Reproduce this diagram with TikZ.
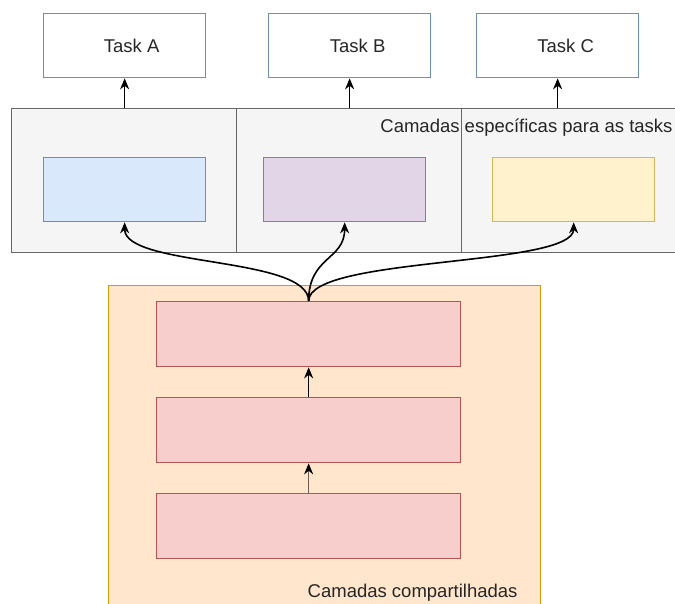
\documentclass[tikz,border=0pt]{standalone}
\usepackage{fontspec}
\setmainfont{Liberation Sans}
\usetikzlibrary{arrows.meta}

\definecolor{taskline}{HTML}{6C8EBF}
\definecolor{grayfill}{HTML}{F5F5F5}
\definecolor{grayline}{HTML}{666666}
\definecolor{bluefill}{HTML}{DAE8FC}
\definecolor{purplefill}{HTML}{E1D5E7}
\definecolor{purpleline}{HTML}{9673A6}
\definecolor{yellowfill}{HTML}{FFF2CC}
\definecolor{yellowline}{HTML}{D6B656}
\definecolor{orangefill}{HTML}{FFE6CC}
\definecolor{orangeline}{HTML}{D79B00}
\definecolor{redfill}{HTML}{F8CECC}
\definecolor{redline}{HTML}{B85450}
\definecolor{softarrow}{HTML}{6E5F55}

\tikzset{
  txt/.style={font=\fontsize{18.5}{20}\selectfont, text=black!85},
  layer/.style={draw, line width=1.3pt, anchor=north west, inner sep=0pt},
  taskbox/.style={layer, draw=taskline, fill=white, minimum width=162pt, minimum height=64pt},
  panel/.style={layer, draw=grayline, fill=grayfill, minimum height=144pt},
  headbox/.style={layer, minimum width=162pt, minimum height=64pt},
  sharedbox/.style={layer, draw=redline, fill=redfill, minimum width=304pt, minimum height=65pt},
  link/.style={line width=1.6pt, -{Stealth[length=11pt,width=9pt,inset=3.5pt]}},
}

\begin{document}
\begin{tikzpicture}[x=1pt,y=-1pt]
\useasboundingbox (0,0) rectangle (675,603);

% output tasks
\node[taskbox, label={[txt,xshift=7pt]center:Task A}] (ta) at (43,13) {};
\node[taskbox, label={[txt,xshift=8pt]center:Task B}] (tb) at (268,13) {};
\node[taskbox, label={[txt,xshift=8pt]center:Task C}] (tc) at (476,13) {};

% task-specific band, three panels
\node[panel, minimum width=225pt] (pa) at (11,108) {};
\node[panel, minimum width=225pt] (pb) at (236,108) {};
\node[panel, minimum width=225pt] (pc) at (461,108) {};
\node[txt, anchor=base east] (specl) at (676,132) {Camadas específicas para as tasks};

\node[headbox, draw=taskline, fill=bluefill] (ha) at (43,157) {};
\node[headbox, draw=purpleline, fill=purplefill] (hb) at (263,157) {};
\node[headbox, draw=yellowline, fill=yellowfill] (hc) at (492,157) {};

% shared trunk
\node[layer, draw=orangeline, fill=orangefill, minimum width=432pt, minimum height=330pt] (shared) at (108,285) {};
\node[sharedbox] (s1) at (156,301) {};
\node[sharedbox] (s2) at (156,397) {};
\node[sharedbox] (s3) at (156,493) {};
\node[txt, anchor=base east] (sharedl) at (521,597) {Camadas compartilhadas};

% band to tasks
\draw[link] (ta.south |- pa.north) -- (ta.south);
\draw[link] (tb.south |- pb.north) -- (tb.south);
\draw[link] (tc.south |- pc.north) -- (tc.south);

% trunk layers
\draw[line width=1.6pt, softarrow, -{Stealth[length=11pt,width=9pt,inset=3.5pt,black]}] (s3.north) -- (s2.south);
\draw[link] (s2.north) -- (s1.south);

% trunk to heads
\draw[link] (s1.north) .. controls +(0,-45) and +(0,45) .. (ha.south);
\draw[link] (s1.north) .. controls +(0,-45) and +(0,38) .. (hb.south);
\draw[link] (s1.north) .. controls +(0,-45) and +(0,45) .. (hc.south);
\end{tikzpicture}
\end{document}
